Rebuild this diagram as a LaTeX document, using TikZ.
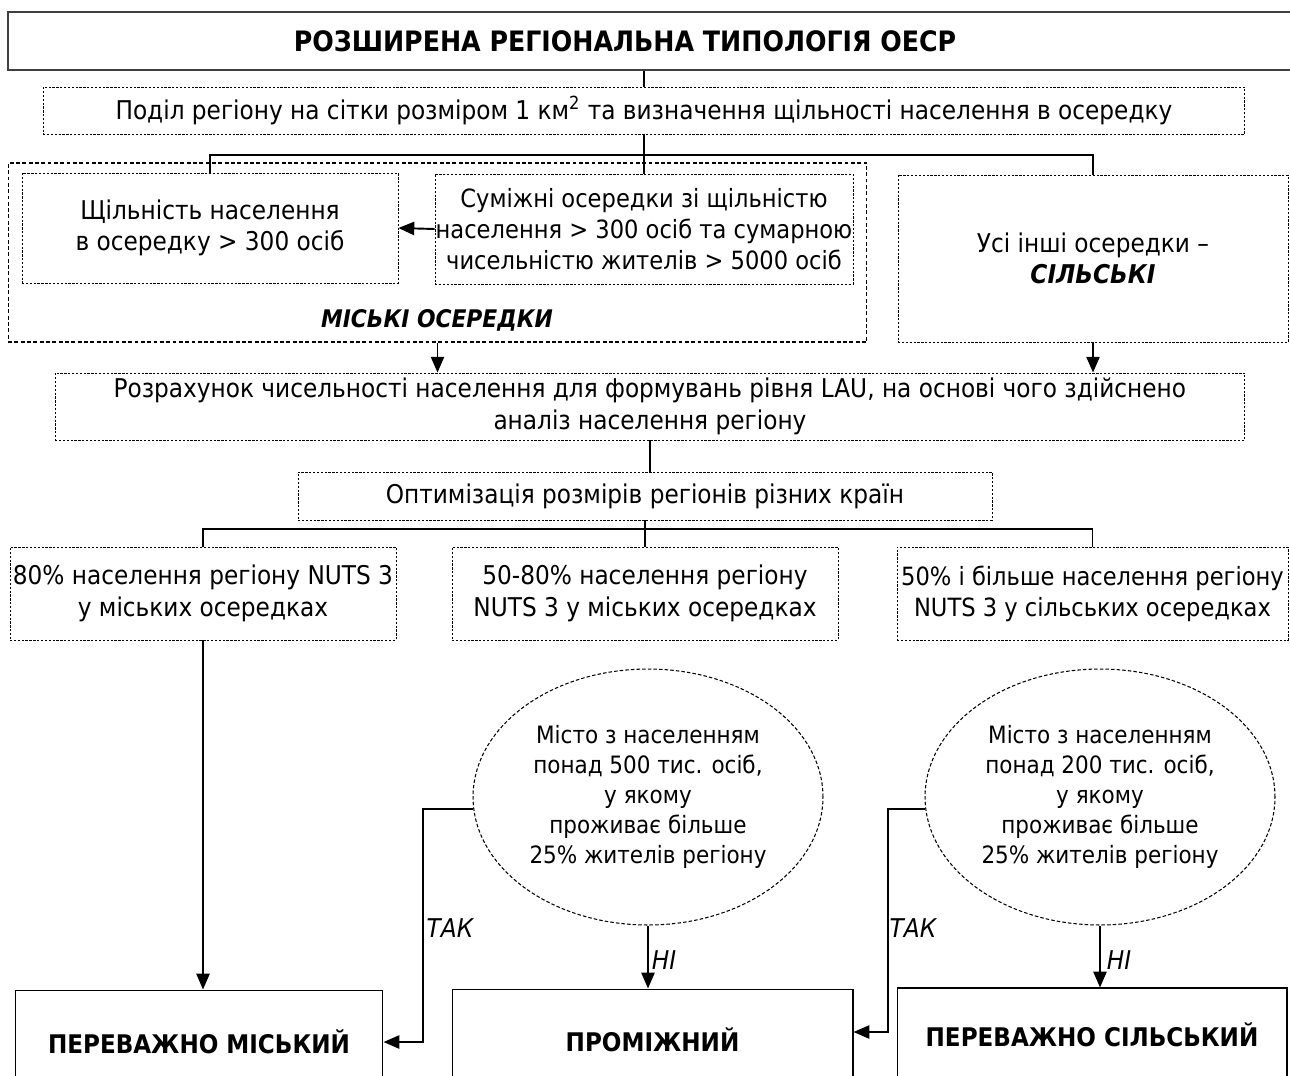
\documentclass[tikz,border=0pt]{standalone}
\usepackage{fontspec}
\setmainfont{DejaVu Sans Condensed}
\usetikzlibrary{arrows.meta,shapes.geometric}

\newcommand\diagfont{\fontsize{14.7}{17.8}\selectfont}
\newcommand\narrowfont{\fontsize{14.3}{17.8}\selectfont}
\newcommand\ellfont{\fontsize{13.6}{17}\selectfont}
\newcommand\headfont{\fontsize{16}{18}\selectfont\bfseries}
\newcommand\resfont{\fontsize{14.6}{17}\selectfont\bfseries}

\tikzset{
  dotbox/.style={draw, line width=0.5pt, dash pattern=on 1.3pt off 0.9pt, align=center, inner sep=0pt},
  dashbox/.style={draw, line width=0.6pt, dash pattern=on 2.2pt off 1.4pt},
  resbox/.style={draw, line width=0.6pt, align=center, inner sep=0pt, font=\resfont},
  cityell/.style={ellipse, draw, line width=0.6pt, dash pattern=on 2pt off 1.2pt, align=center, inner sep=0pt, font=\ellfont},
  conn/.style={line width=1.1pt},
  lbl/.style={font=\diagfont\itshape}
}

\begin{document}
\begin{tikzpicture}[>={Triangle[length=9pt,width=7.5pt]}, x=0.02cm, y=-0.02cm, font=\diagfont]
  \clip (0,0) rectangle (1290,1075);

  % header
  \node[draw, line width=1pt, black!75, minimum width=26.04cm, minimum height=1.16cm] (title) at (659,41) {};
  \node[font=\headfont] (titletxt) at (625,41) {РОЗШИРЕНА РЕГІОНАЛЬНА ТИПОЛОГІЯ ОЕСР};
  \node[dotbox, minimum width=24.04cm, minimum height=0.94cm] (grid) at (644,110.5)
        {Поділ регіону на сітки розміром 1 км\textsuperscript{2} та визначення щільності населення в осередку};

  % urban / rural cells
  \node[dashbox, minimum width=17.18cm, minimum height=3.58cm] (urban) at (437.5,252.5) {};
  \node[font=\fontsize{13.8}{17}\selectfont\bfseries\itshape] (urbanlbl) at (437,320) {МІСЬКІ ОСЕРЕДКИ};
  \node[dotbox, minimum width=7.52cm, minimum height=2.2cm] (dense) at (210,228)
        {Щільність населення\\в осередку > 300 осіб};
  \node[dotbox, font=\narrowfont, minimum width=8.36cm, minimum height=2.2cm] (adj) at (644,229)
        {Суміжні осередки зі щільністю\\населення > 300 осіб та сумарною\\чисельністю жителів > 5000 осіб};
  \node[dotbox, minimum width=7.8cm, minimum height=3.34cm] (rural) at (1093,258.5)
        {Усі інші осередки –\\\textbf{\textit{СІЛЬСЬКІ}}};

  % LAU
  \node[dotbox, minimum width=23.8cm, minimum height=1.34cm] (lau) at (650,406.5)
        {Розрахунок чисельності населення для формувань рівня LAU, на основі чого здійснено\\аналіз населення регіону};
  \node[dotbox, minimum width=13.88cm, minimum height=0.96cm] (optim) at (645,496)
        {Оптимізація розмірів регіонів різних країн};

  % NUTS 3 shares
  \node[dotbox, minimum width=7.72cm, minimum height=1.86cm] (shareA) at (203,593.5)
        {80\% населення регіону NUTS 3\\у міських осередках};
  \node[dotbox, minimum width=7.72cm, minimum height=1.86cm] (shareB) at (645,593.5)
        {50-80\% населення регіону\\NUTS 3 у міських осередках};
  \node[dotbox, font=\narrowfont, minimum width=7.82cm, minimum height=1.86cm] (shareC) at (1092.5,593.5)
        {50\% і більше населення регіону\\NUTS 3 у сільських осередках};

  % cities
  \node[cityell, minimum width=7.0cm, minimum height=5.12cm] (city1) at (648,797)
        {Місто з населенням\\понад 500 тис. осіб,\\у якому\\проживає більше\\25\% жителів регіону};
  \node[cityell, minimum width=7.0cm, minimum height=5.12cm] (city2) at (1100,797)
        {Місто з населенням\\понад 200 тис. осіб,\\у якому\\проживає більше\\25\% жителів регіону};

  % result types
  \node[resbox, minimum width=7.36cm, minimum height=2.08cm] (res1) at (199,1042) {ПЕРЕВАЖНО МІСЬКИЙ};
  \node[resbox, minimum width=8.02cm, minimum height=2.04cm] (res2) at (652.5,1040) {ПРОМІЖНИЙ};
  \node[resbox, minimum width=7.8cm, minimum height=1.88cm] (res3) at (1092,1035) {ПЕРЕВАЖНО СІЛЬСЬКИЙ};

  \coordinate (split1) at (644,155);
  \coordinate (split2) at (645,529);
  \coordinate (yes1) at (423,0);
  \coordinate (yes2) at (888,0);

  \draw[conn] (grid.north) -- (grid.north |- title.south);
  \draw[conn] (grid.south) -- (split1);
  \draw[conn] (dense.north) |- (split1) -| (rural.north);
  \draw[conn] (split1) -- (adj.north);
  \draw[conn,->] (adj.west) -- (dense.east);
  \draw[conn,->] (urban.south) -- (urban.south |- lau.north);
  \draw[conn,->] (rural.south) -- (rural.south |- lau.north);
  \draw[line width=0.7pt] (lau.south) -- (lau.south |- optim.north);
  \draw[line width=0.7pt] (optim.south) -- (split2);
  \draw[conn] (shareA.north) |- (split2) -| (shareC.north);
  \draw[line width=0.7pt] (split2) -- (shareB.north);

  \draw[conn,->] (shareA.south) -- (shareA.south |- res1.north);
  \draw[conn,->] (city1.184) -| (yes1 |- res1.east) -- (res1.east);
  \draw[conn,->] (city1.south) -- (city1.south |- res2.north);
  \draw[conn,->] (city2.184) -| (yes2 |- 0,1032) -- (res2.east |- 0,1032);
  \draw[conn,->] (city2.south) -- (city2.south |- res3.north);

  \node[lbl] (yes1lbl) at (450,928) {ТАК};
  \node[lbl] (no1lbl) at (664,960) {НІ};
  \node[lbl] (yes2lbl) at (913,928) {ТАК};
  \node[lbl] (no2lbl) at (1119,960) {НІ};
\end{tikzpicture}
\end{document}
